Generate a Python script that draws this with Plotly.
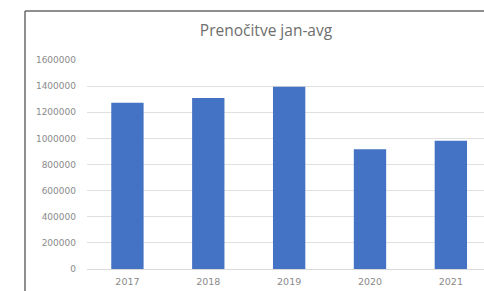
import plotly.graph_objects as go

years = ["2017", "2018", "2019", "2020", "2021"]
nights = [1272000, 1310000, 1395000, 917000, 981000]
y_ticks = [0, 200000, 400000, 600000, 800000, 1000000, 1200000, 1400000, 1600000]
title_text = "Prenočitve jan-avg"

W, H = 484, 291
ml, mr, mt, mb = 87, 0, 60, 22
pw = W - ml - mr
ph = H - mt - mb

fig = go.Figure(go.Bar(x=years, y=nights, marker_color="#4472c4", marker_line_width=0))

# frame of the chart area (top-left corner visible)
fx = (25 - ml) / pw
fy = (H - mb - 11) / ph
fig.add_shape(type="line", xref="paper", yref="paper", x0=fx, x1=1.2, y0=fy, y1=fy,
              line=dict(color="#6a6a6a", width=1.5))
fig.add_shape(type="line", xref="paper", yref="paper", x0=fx, x1=fx, y0=-0.3, y1=fy,
              line=dict(color="#6a6a6a", width=1.5))

fig.update_layout(
    width=W, height=H,
    margin=dict(l=ml, r=mr, t=mt, b=mb, autoexpand=False),
    paper_bgcolor="white", plot_bgcolor="white",
    bargap=0.6,
    showlegend=False,
    title=dict(text=title_text, x=266 / W, xanchor="center", y=1 - 31 / H, yanchor="middle",
               font=dict(family="Open Sans", size=15.5, color="#6e6e6e")),
    font=dict(family="DejaVu Sans", color="#8a8a8a"),
)
fig.update_xaxes(range=[-0.5, 4.41], showgrid=False, showline=True, linecolor="#d9d9d9",
                 tickfont=dict(size=9.5, color="#8a8a8a"), ticks="", ticklabelstandoff=4,
                 automargin=False)
fig.update_yaxes(range=[0, 1600000], tickvals=y_ticks, tickformat="d", showgrid=True,
                 gridcolor="#e0e0e0", zeroline=False, showline=False,
                 tickfont=dict(size=9, color="#8a8a8a"), ticks="", ticklabelstandoff=10,
                 automargin=False)

fig.write_html("out.html", config={"displayModeBar": False},
               post_script="document.body.style.margin='0';document.body.style.overflow='hidden';")
